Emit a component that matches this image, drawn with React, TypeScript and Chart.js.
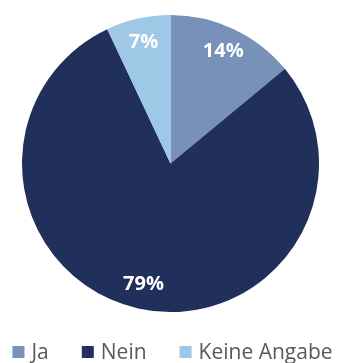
import React, { useEffect, useRef } from "react";
import { Chart, registerables } from "chart.js";

Chart.register(...registerables);

const categories = ["Ja", "Nein", "Keine Angabe"];
const shares = [14, 79, 7];
const sliceColors = ["#7791B8", "#20305B", "#9EC8E6"];

const W = 338;
const H = 363;

// Percent labels placed along each slice's middle angle
const sliceLabels = {
  id: "sliceLabels",
  afterDatasetsDraw(chart: any) {
    const ctx = chart.ctx;
    const meta = chart.getDatasetMeta(0);
    ctx.save();
    ctx.fillStyle = "#ffffff";
    ctx.font = "bold 20px 'Open Sans'";
    ctx.textAlign = "center";
    ctx.textBaseline = "middle";
    meta.data.forEach((arc: any, i: number) => {
      const p = arc.getProps(["x", "y", "startAngle", "endAngle", "outerRadius"], true);
      const mid = (p.startAngle + p.endAngle) / 2;
      const r = p.outerRadius * 0.835;
      ctx.fillText(shares[i] + "%", p.x + Math.cos(mid) * r, p.y + Math.sin(mid) * r);
    });
    ctx.restore();
  },
};

// Legend row below the pie
const bottomLegend = {
  id: "bottomLegend",
  afterDraw(chart: any) {
    const ctx = chart.ctx;
    ctx.save();
    ctx.font = "21px 'Open Sans'";
    ctx.textBaseline = "middle";
    const box = 12;
    const boxGap = 7;
    const itemGap = 33;
    const widths = categories.map((c) => ctx.measureText(c).width);
    const total =
      widths.reduce((a, b) => a + b, 0) + categories.length * (box + boxGap) + itemGap * (categories.length - 1);
    let x = 172.5 - total / 2;
    const y = 352;
    categories.forEach((c, i) => {
      ctx.fillStyle = sliceColors[i];
      ctx.fillRect(x, y - box / 2, box, box);
      x += box + boxGap;
      ctx.fillStyle = "#595959";
      ctx.fillText(c, x, y + 1);
      x += widths[i] + itemGap;
    });
    ctx.restore();
  },
};

export default function App() {
  const ref = useRef<HTMLCanvasElement | null>(null);

  useEffect(() => {
    if (!ref.current) return;
    const chart = new Chart(ref.current, {
      type: "pie",
      data: {
        labels: categories,
        datasets: [
          {
            data: shares,
            backgroundColor: sliceColors,
            borderWidth: 0,
          },
        ],
      },
      options: {
        responsive: false,
        animation: false,
        layout: { padding: { left: 22, right: 19, top: 15, bottom: 51 } },
        plugins: {
          legend: { display: false },
          tooltip: { enabled: false },
        },
      },
      plugins: [sliceLabels, bottomLegend],
    });
    return () => chart.destroy();
  }, []);

  return (
    <div style={{ position: "absolute", left: 0, top: 0, width: W, height: H, background: "#fff" }}>
      <canvas ref={ref} width={W} height={H} style={{ width: W, height: H, display: "block" }} />
    </div>
  );
}
